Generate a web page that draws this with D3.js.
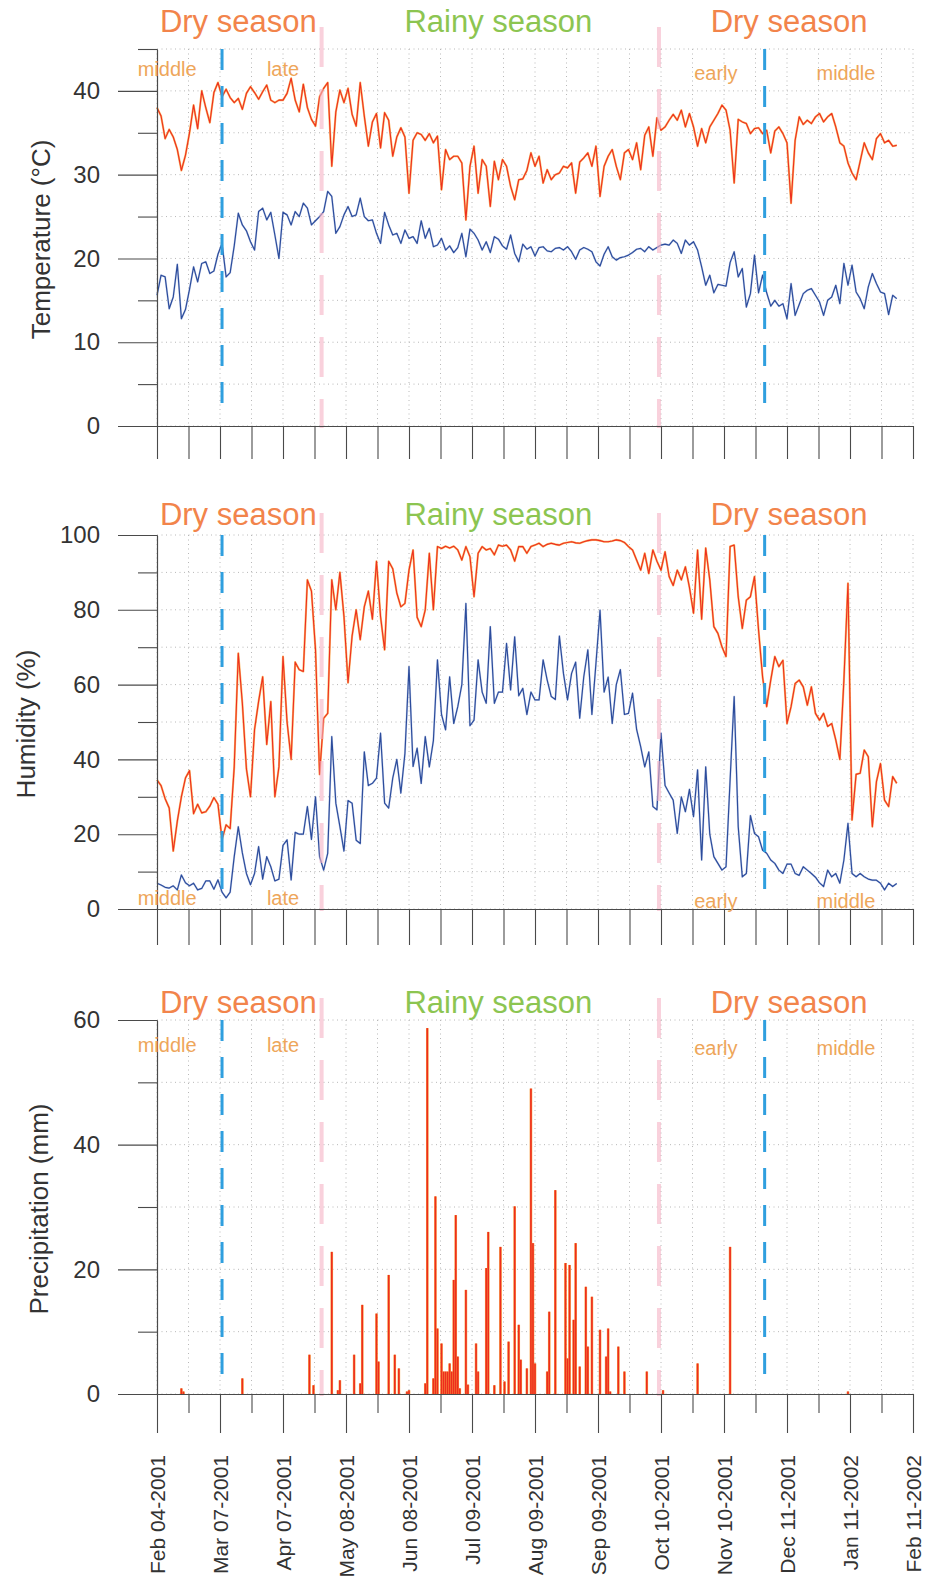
<!DOCTYPE html>
<html>
<head>
<meta charset="utf-8">
<script src="https://cdn.jsdelivr.net/npm/d3@7"></script>
<style>
  html, body { margin: 0; padding: 0; background: #fff; }
  svg { display: block; font-family: "Liberation Sans", Arial, Helvetica, sans-serif; }
</style>
</head>
<body>
<script>
// daily station record, one reading every 2 days from Feb 04-2001
const startDate = new Date(Date.UTC(2001, 1, 4));
const endDate = new Date(Date.UTC(2002, 1, 11));
const stepDays = 2;

// temperature (°C)
const tMax = [
  38.0, 37.0, 34.3, 35.4, 34.5, 33.0, 30.5, 32.3, 35.0, 38.3,
  35.5, 40.0, 38.0, 36.2, 39.8, 41.0, 39.3, 40.2, 39.2, 38.6,
  39.1, 37.8, 39.7, 40.5, 39.8, 39.0, 39.9, 40.7, 38.9, 38.6,
  38.9, 38.9, 39.7, 41.5, 38.9, 37.5, 40.8, 38.0, 36.6, 35.8,
  39.3, 40.3, 41.0, 31.0, 37.5, 40.1, 38.6, 40.3, 37.2, 35.8,
  41.0, 37.0, 33.4, 36.3, 37.3, 33.2, 37.4, 36.5, 32.2, 34.5,
  35.6, 34.5, 27.8, 34.1, 35.0, 34.8, 34.1, 34.9, 33.8, 34.6,
  28.2, 33.0, 31.8, 32.2, 32.2, 31.4, 24.6, 31.0, 33.4, 27.8,
  31.8, 31.0, 26.2, 31.6, 29.4, 31.8, 31.0, 28.6, 27.0, 29.4,
  29.5, 30.5, 32.6, 31.0, 32.2, 29.0, 30.6, 29.4, 30.0, 30.2,
  31.0, 30.8, 31.4, 27.8, 31.5, 32.0, 32.6, 31.0, 33.4, 27.4,
  31.0, 32.2, 33.0, 31.0, 29.4, 32.6, 33.0, 31.8, 33.8, 30.6,
  34.7, 35.7, 32.2, 36.8, 35.3, 35.7, 36.5, 37.2, 36.5, 37.7,
  35.7, 37.3, 35.7, 33.4, 35.5, 33.8, 35.7, 36.5, 37.3, 38.3,
  37.7, 35.3, 29.0, 36.6, 36.3, 36.1, 34.9, 35.5, 35.6, 34.9,
  35.3, 32.6, 35.2, 35.7, 34.9, 33.8, 26.6, 34.1, 36.9, 36.0,
  36.5, 36.1, 36.9, 37.3, 36.3, 36.9, 37.3, 35.7, 33.8, 33.4,
  31.4, 30.2, 29.4, 31.6, 33.8, 32.6, 31.8, 34.3, 34.9, 33.8,
  34.1, 33.4, 33.5
];
const tMin = [
  15.6, 18.0, 17.8, 14.0, 15.4, 19.3, 12.8, 13.9, 16.3, 19.0,
  17.2, 19.4, 19.6, 18.2, 18.5, 20.5, 21.8, 17.8, 18.3, 21.5,
  25.4, 24.0, 23.3, 22.0, 21.0, 25.6, 26.0, 24.6, 25.5, 22.8,
  20.0, 25.5, 25.2, 24.0, 25.6, 25.0, 26.6, 26.0, 24.0, 24.5,
  25.0, 25.6, 28.0, 27.4, 23.0, 23.8, 25.2, 26.2, 25.0, 25.2,
  27.2, 25.0, 24.5, 24.6, 23.0, 21.8, 25.5, 24.0, 22.8, 23.0,
  21.8, 23.4, 22.4, 22.6, 21.8, 24.5, 22.4, 23.6, 21.4, 21.6,
  22.4, 21.0, 21.5, 20.7, 21.3, 23.0, 20.2, 23.5, 23.0, 22.2,
  21.0, 22.0, 20.7, 22.6, 22.3, 21.5, 21.1, 22.8, 20.6, 19.6,
  21.7, 21.1, 21.4, 20.3, 21.3, 21.4, 20.9, 20.8, 21.2, 21.3,
  21.0, 21.4, 20.8, 19.9, 21.0, 21.3, 21.1, 20.8, 19.6, 19.1,
  20.5, 21.4, 20.2, 19.8, 20.1, 20.2, 20.4, 20.7, 21.1, 21.2,
  20.8, 21.4, 21.0, 21.3, 21.6, 21.7, 21.6, 22.2, 21.8, 20.6,
  22.2, 21.6, 22.0, 21.0, 19.0, 16.8, 18.0, 15.9, 16.9, 16.8,
  16.7, 19.5, 20.8, 17.8, 18.8, 14.2, 15.8, 20.4, 15.9, 18.0,
  15.9, 14.3, 15.0, 14.3, 14.6, 12.8, 17.0, 13.2, 14.5, 15.8,
  16.2, 16.4, 15.6, 14.8, 13.2, 15.0, 15.4, 16.8, 14.6, 19.4,
  16.8, 19.2, 16.0, 15.2, 14.0, 16.6, 18.2, 17.0, 16.0, 15.8,
  13.3, 15.6, 15.2
];

// relative humidity (%)
const hMax = [
  34.5, 33.0, 29.5, 27.0, 15.5, 23.5, 30.0, 35.0, 37.0, 25.5,
  28.0, 25.7, 26.0, 27.5, 29.8, 28.0, 18.6, 22.5, 21.5, 38.0,
  68.4, 55.0, 37.5, 30.0, 48.0, 55.5, 62.1, 44.0, 55.5, 30.0,
  38.0, 67.5, 50.0, 40.0, 66.0, 64.0, 63.5, 88.0, 85.0, 69.3,
  36.0, 51.0, 52.3, 88.0, 80.0, 90.0, 78.2, 60.5, 73.0, 80.0,
  72.0, 80.8, 85.0, 77.5, 93.0, 78.2, 69.3, 93.0, 91.0, 84.5,
  80.8, 81.7, 90.6, 96.0, 78.0, 75.5, 80.0, 95.1, 80.0, 96.9,
  96.4, 97.0, 96.5, 97.0, 96.0, 93.3, 96.9, 94.2, 83.5, 95.1,
  96.9, 96.0, 96.4, 94.7, 97.3, 97.0, 97.3, 96.0, 93.0, 96.9,
  96.9, 95.1, 96.9, 97.3, 97.8, 96.9, 97.5, 97.8, 97.5, 97.3,
  97.8, 98.0, 98.2, 97.9, 97.8, 98.2, 98.5, 98.7, 98.7, 98.5,
  98.2, 98.2, 98.4, 98.7, 98.5, 98.0, 96.9, 96.0, 93.3, 90.6,
  95.1, 89.7, 96.0, 93.0, 90.6, 95.5, 88.9, 86.5, 90.6, 88.0,
  91.5, 86.0, 79.1, 96.0, 77.5, 96.5, 88.0, 75.5, 73.7, 70.1,
  67.5, 96.9, 97.3, 83.5, 75.0, 82.6, 83.5, 88.9, 74.6, 62.0,
  54.1, 61.2, 67.5, 64.8, 66.5, 49.6, 54.1, 60.3, 61.2, 59.4,
  54.5, 59.4, 52.3, 50.5, 52.3, 48.8, 49.6, 45.2, 40.0, 61.2,
  87.1, 23.8, 36.0, 36.3, 42.5, 40.7, 22.0, 34.0, 38.9, 29.1,
  27.4, 35.4, 33.6
];
const hMin = [
  6.9, 6.4, 5.8, 5.6, 6.2, 5.1, 9.1, 7.0, 6.2, 6.9,
  5.1, 5.5, 7.5, 7.5, 5.3, 7.8, 4.5, 3.0, 4.5, 14.0,
  22.0, 15.0, 9.5, 6.5, 9.5, 16.7, 8.0, 14.0, 11.3, 7.5,
  8.0, 17.0, 18.5, 7.8, 20.5, 20.0, 20.0, 27.4, 18.6, 30.0,
  14.0, 10.4, 14.9, 46.1, 28.3, 22.0, 15.5, 29.0, 28.3, 18.4,
  17.5, 42.0, 33.0, 33.6, 35.0, 47.0, 28.3, 27.0, 35.0, 40.0,
  31.0, 41.6, 64.8, 38.1, 43.0, 33.6, 46.1, 38.0, 45.0, 66.6,
  52.0, 47.9, 62.1, 49.6, 54.1, 60.0, 81.7, 49.0, 50.5, 66.6,
  58.0, 55.0, 75.5, 55.0, 58.0, 58.0, 71.0, 58.6, 72.8, 57.0,
  59.0, 52.0, 58.0, 55.9, 55.9, 66.6, 61.2, 56.8, 56.0, 73.0,
  63.0, 55.9, 63.0, 66.0, 51.0, 62.1, 69.3, 52.0, 65.7, 79.9,
  58.0, 62.0, 49.6, 60.0, 64.0, 52.0, 52.3, 57.7, 48.0, 43.4,
  38.0, 42.0, 27.4, 26.5, 47.0, 33.0, 31.0, 29.1, 20.2, 30.0,
  26.0, 32.0, 24.7, 37.2, 13.1, 38.0, 20.0, 14.0, 12.2, 10.4,
  11.3, 34.5, 56.8, 22.0, 8.6, 9.5, 25.0, 20.2, 19.3, 15.7,
  14.9, 13.1, 12.2, 10.4, 9.5, 12.0, 12.0, 9.5, 9.0, 11.3,
  10.4, 9.5, 8.5, 7.0, 6.0, 10.4, 8.6, 9.5, 6.9, 13.1,
  22.9, 9.5, 8.6, 9.5, 8.6, 8.0, 7.7, 7.7, 6.9, 5.1,
  6.9, 6.0, 6.8
];

// precipitation (mm): days after Feb 04-2001 with rain, and amount
const rainDay = [
  12, 13, 42, 75, 77, 86, 89, 90, 97, 100, 101, 108, 109, 114, 117, 119, 123, 124,
  132, 133, 136, 137, 138, 140, 141, 142, 143, 144, 145, 146, 147, 148, 149,
  152, 153, 157, 158, 162, 163, 166, 169, 171, 173, 176, 178, 179, 182, 184, 185, 186,
  192, 193, 196, 201, 202, 203, 205, 206, 208, 211, 212, 214, 218, 221, 222, 223,
  227, 230, 241, 249, 266, 282, 340
];
const rainMm = [
  0.9, 0.4, 2.5, 6.3, 1.4, 22.8, 0.6, 2.2, 6.3, 1.7, 14.3, 12.9, 5.2, 19.1, 6.3, 4.1, 0.4, 0.6,
  1.7, 58.7, 2.5, 31.7, 10.5, 8.1, 3.6, 3.6, 3.6, 4.9, 3.6, 18.3, 28.7, 6.0, 0.9,
  16.7, 1.5, 8.1, 3.6, 20.2, 26.0, 1.4, 23.6, 2.0, 8.4, 30.1, 11.1, 5.5, 4.1, 49.0, 24.2, 4.9,
  3.6, 13.2, 32.7, 21.0, 5.7, 20.7, 11.9, 24.2, 4.4, 17.2, 7.6, 15.6, 10.3, 6.0, 10.5, 0.4,
  7.6, 3.6, 3.6, 0.6, 4.9, 23.6, 0.4
];

const xTickLabels = [
  "Feb 04-2001", "Mar 07-2001", "Apr 07-2001", "May 08-2001", "Jun 08-2001",
  "Jul 09-2001", "Aug 09-2001", "Sep 09-2001", "Oct 10-2001", "Nov 10-2001",
  "Dec 11-2001", "Jan 11-2002", "Feb 11-2002"
];

const seasonNames = ["Dry season", "Rainy season", "Dry season"];
const seasonMidDay = [40, 168, 311];
const phaseNames = ["middle", "late", "early", "middle"];
const phaseMidDay = [5, 62, 275, 339];
const rainyLimitDay = [81, 247];   // start / end of rainy season
const phaseLimitDay = [32, 299];   // middle/late and early/middle dry season

/***** Setup *****/
const width = 928, height = 1581;
const dayMs = 864e5;
const dayToDate = d => new Date(startDate.getTime() + d * dayMs);

const svg = d3.select("body").append("svg")
  .attr("width", width)
  .attr("height", height);

const x = d3.scaleUtc().domain([startDate, endDate]).range([157, 913]);
const [x0, x1] = x.range();

// ticks every half "month" of 31 days
const tickDates = d3.range(25).map(k => dayToDate(k * 15.5));
const majorDates = tickDates.filter((d, i) => i % 2 === 0);
const minorDates = tickDates.filter((d, i) => i % 2 === 1);

const series = arr => arr.map((v, i) => ({ date: dayToDate(i * stepDays), v: v }));

const panels = [
  { title: "Temperature (°C)", top: 49, base: 426, yMax: 45, major: [0, 10, 20, 30, 40], minor: [5, 15, 25, 35, 45],
    titleX: 50, tickDown: 33, seasonY: 32, phaseY: [76, 76, 80, 80], lines: [tMax, tMin] },
  { title: "Humidity (%)", top: 535, base: 909, yMax: 100, major: [0, 20, 40, 60, 80, 100], minor: [10, 30, 50, 70, 90],
    titleX: 35, tickDown: 36, seasonY: 525, phaseY: [905, 905, 908, 908], lines: [hMax, hMin] },
  { title: "Precipitation (mm)", top: 1020, base: 1394, yMax: 60, major: [0, 20, 40, 60], minor: [10, 30, 50],
    titleX: 48, tickDown: null, seasonY: 1013, phaseY: [1052, 1052, 1055, 1055], lines: null }
];

const styleAxis = g => g.attr("font-size", null).attr("font-family", null).attr("color", "#4a4a4a")
  .call(s => s.selectAll("line, path").attr("stroke-width", 1.1));

panels.forEach(p => {
  const y = d3.scaleLinear().domain([0, p.yMax]).range([p.base, p.top]);
  const g = svg.append("g");

  // dotted grid
  g.append("g").selectAll("line").data(p.major.concat(p.minor)).join("line")
    .attr("x1", x0).attr("x2", x1)
    .attr("y1", d => y(d)).attr("y2", d => y(d))
    .attr("stroke", "#b8b8b8").attr("stroke-width", 1).attr("stroke-dasharray", "1,3.5");
  g.append("g").selectAll("line").data(tickDates).join("line")
    .attr("x1", d => x(d)).attr("x2", d => x(d))
    .attr("y1", p.top).attr("y2", p.base)
    .attr("stroke", "#b8b8b8").attr("stroke-width", 1).attr("stroke-dasharray", "1,3.5");

  // data
  if (p.lines) {
    const line = d3.line().x(d => x(d.date)).y(d => y(d.v));
    const hi = series(p.lines[0]);
    const lo = series(p.lines[1]);
    g.append("path").datum(hi).attr("d", line).attr("fill", "none")
      .attr("stroke", "#f9a43e").attr("stroke-width", 2.1).attr("stroke-opacity", 0.8).attr("stroke-linejoin", "round");
    g.append("path").datum(hi).attr("d", line).attr("fill", "none")
      .attr("stroke", "#ee2f1f").attr("stroke-width", 1.1).attr("stroke-linejoin", "round");
    g.append("path").datum(lo).attr("d", line).attr("fill", "none")
      .attr("stroke", "#7f98d2").attr("stroke-width", 2.0).attr("stroke-opacity", 0.4).attr("stroke-linejoin", "round");
    g.append("path").datum(lo).attr("d", line).attr("fill", "none")
      .attr("stroke", "#2c4c9c").attr("stroke-width", 1.2).attr("stroke-linejoin", "round");
  } else {
    const rain = rainDay.map((d, i) => ({ date: dayToDate(d), v: rainMm[i] }));
    g.append("g").selectAll("rect").data(rain).join("rect")
      .attr("x", d => x(d.date) - 1.3)
      .attr("width", 2.6)
      .attr("y", d => y(d.v))
      .attr("height", d => y(0) - y(d.v))
      .attr("fill", "#f7a040");
    g.append("g").selectAll("rect").data(rain).join("rect")
      .attr("x", d => x(d.date) - 0.8)
      .attr("width", 1.6)
      .attr("y", d => y(d.v))
      .attr("height", d => y(0) - y(d.v))
      .attr("fill", "#ee2c1e");
  }

  // season limits
  g.append("g").selectAll("line").data(rainyLimitDay).join("line")
    .attr("x1", d => x(dayToDate(d))).attr("x2", d => x(dayToDate(d)))
    .attr("y1", p.top - 22).attr("y2", p.base + 2)
    .attr("stroke", "#f5b3c4").attr("stroke-width", 4).attr("stroke-opacity", 0.6)
    .attr("stroke-dasharray", "40,22");
  g.append("g").selectAll("line").data(phaseLimitDay).join("line")
    .attr("x1", d => x(dayToDate(d))).attr("x2", d => x(dayToDate(d)))
    .attr("y1", p.top).attr("y2", p.base - 13)
    .attr("stroke", "#2f9fdf").attr("stroke-width", 3)
    .attr("stroke-dasharray", "21,16");

  // y axis
  g.append("g").attr("transform", `translate(${x0},0)`)
    .call(d3.axisLeft(y).tickValues(p.minor).tickSize(19).tickFormat("").tickSizeOuter(0))
    .call(styleAxis);
  g.append("g").attr("transform", `translate(${x0},0)`)
    .call(d3.axisLeft(y).tickValues(p.major).tickSize(39).tickPadding(18).tickSizeOuter(0))
    .call(styleAxis)
    .call(s => s.selectAll("text").attr("font-size", 24).attr("fill", "#333"));

  // x axis
  if (p.tickDown) {
    g.append("g").attr("transform", `translate(0,${p.base})`)
      .call(d3.axisBottom(x).tickValues(tickDates).tickSize(p.tickDown).tickFormat("").tickSizeOuter(0))
      .call(styleAxis);
  } else {
    g.append("g").attr("transform", `translate(0,${p.base})`)
      .call(d3.axisBottom(x).tickValues(minorDates).tickSize(19).tickFormat("").tickSizeOuter(0))
      .call(styleAxis);
    g.append("g").attr("transform", `translate(0,${p.base})`)
      .call(d3.axisBottom(x).tickValues(majorDates).tickSize(39).tickSizeOuter(0)
        .tickFormat((d, i) => xTickLabels[i]))
      .call(styleAxis)
      .call(s => s.selectAll("text")
        .attr("transform", "rotate(-90)")
        .attr("text-anchor", "end")
        .attr("x", -61).attr("y", 0).attr("dy", "0.35em")
        .attr("font-size", 21).attr("fill", "#333"));
  }

  // axis title
  g.append("text")
    .attr("transform", `translate(${p.titleX},${(p.top + p.base) / 2 + 2}) rotate(-90)`)
    .attr("text-anchor", "middle")
    .attr("font-size", 26).attr("fill", "#333")
    .text(p.title);

  // season names
  g.append("g").selectAll("text").data(seasonNames).join("text")
    .attr("x", (d, i) => x(dayToDate(seasonMidDay[i])))
    .attr("y", p.seasonY)
    .attr("text-anchor", "middle")
    .attr("font-size", 31)
    .attr("fill", (d, i) => i === 1 ? "#8cc551" : "#f2844b")
    .text(d => d);
  g.append("g").selectAll("text").data(phaseNames).join("text")
    .attr("x", (d, i) => x(dayToDate(phaseMidDay[i])))
    .attr("y", (d, i) => p.phaseY[i])
    .attr("text-anchor", "middle")
    .attr("font-size", 20)
    .attr("fill", "#eea65a")
    .text(d => d);
});
</script>
</body>
</html>
